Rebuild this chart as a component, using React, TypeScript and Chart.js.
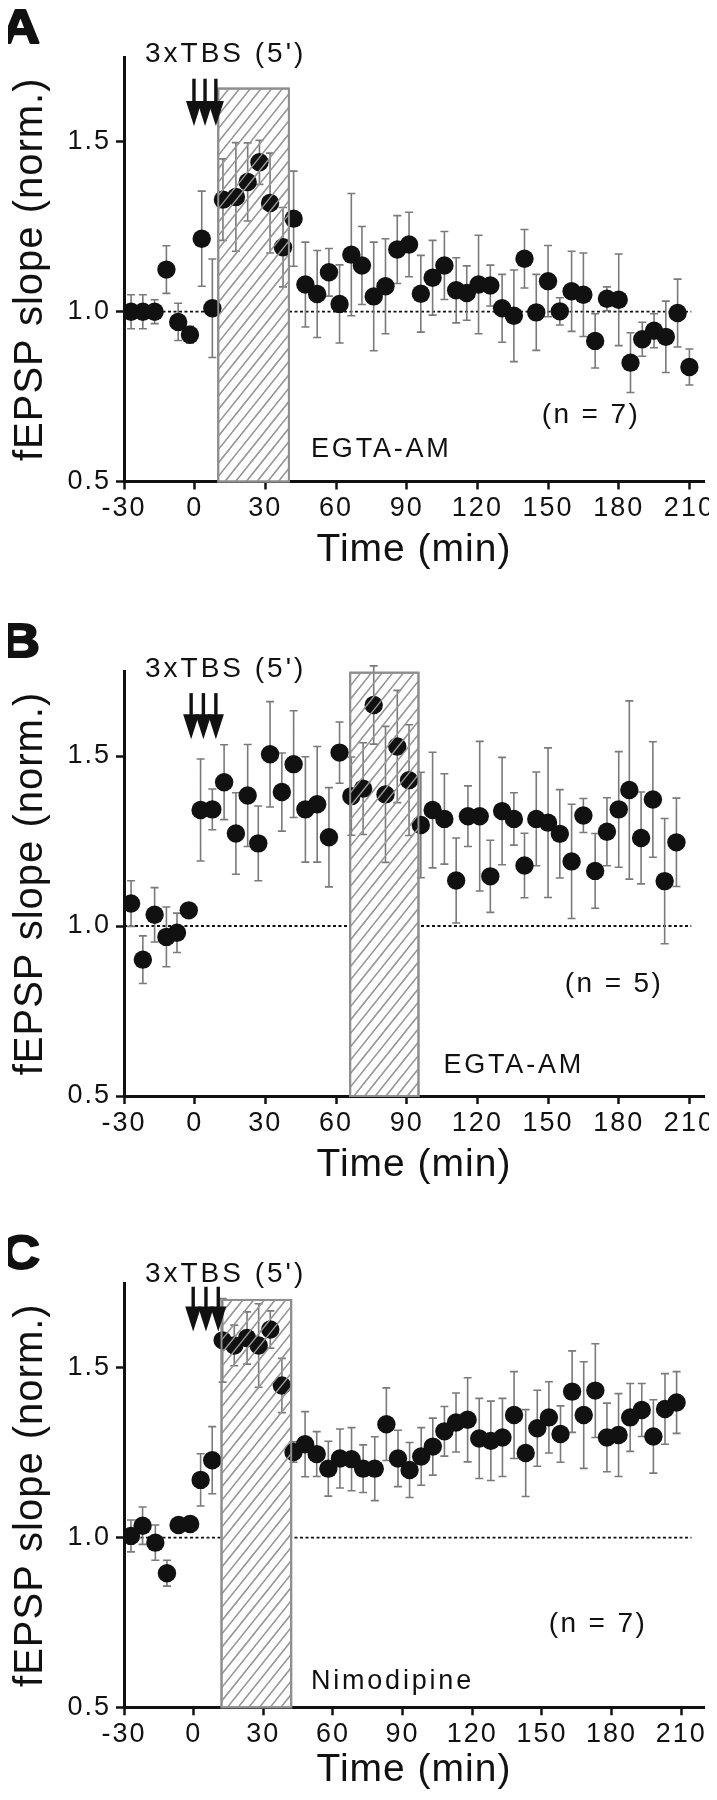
import React, { useEffect, useRef } from "react";
import { Chart, registerables } from "chart.js";

Chart.register(...registerables);

const FONT = "'Liberation Sans', Arial, Helvetica, sans-serif";
const INK = "#111111";
const BAR = "#7a7a7a";
const HATCH = "#9a9a9a";
const EDGE = "#8e8e8e";

// ---- axis ticks ----
const xTickValues = [-30, 0, 30, 60, 90, 120, 150, 180, 210];
const yTickValues = [0.5, 1.0, 1.5];

// ---- Panel A (EGTA-AM after TBS) ----
const timeA = [-27, -22, -17, -12, -7, -2, 3, 7.5, 12, 17.5, 22.5, 27.5, 32, 37.5, 42, 47, 52, 57, 61.5, 66.5, 71, 76, 81, 86, 91, 96, 101, 106, 111, 115.5, 120.5, 125.5, 130.5, 135.5, 140, 145, 150, 155, 160, 165, 170, 175, 180, 185, 190, 195, 200, 205, 210];
const slopeA = [1.0, 1.0, 1.0, 1.124, 0.97, 0.932, 1.215, 1.01, 1.33, 1.338, 1.382, 1.44, 1.32, 1.19, 1.274, 1.08, 1.052, 1.116, 1.023, 1.168, 1.136, 1.045, 1.075, 1.183, 1.198, 1.053, 1.1, 1.136, 1.063, 1.055, 1.08, 1.077, 1.01, 0.988, 1.156, 0.998, 1.09, 1.001, 1.06, 1.05, 0.914, 1.038, 1.035, 0.85, 0.919, 0.944, 0.926, 0.996, 0.837];
const semA = [0.05, 0.05, 0.035, 0.07, 0.055, 0.025, 0.14, 0.145, 0.12, 0.16, 0.115, 0.065, 0.147, 0.117, 0.14, 0.125, 0.128, 0.07, 0.115, 0.18, 0.115, 0.16, 0.14, 0.1, 0.095, 0.113, 0.11, 0.1, 0.096, 0.08, 0.145, 0.06, 0.1, 0.135, 0.086, 0.112, 0.105, 0.04, 0.118, 0.123, 0.08, 0.035, 0.135, 0.088, 0.05, 0.05, 0.105, 0.1, 0.053];
const arrowTimesA = [-0.3, 4.4, 9.0];

// ---- Panel B (EGTA-AM late) ----
const timeB = [-27, -22, -17, -12, -7.5, -2.5, 2.5, 7.5, 12.5, 17.5, 22.5, 27, 32, 37, 42, 47, 52, 57, 61.5, 66.5, 71.5, 76, 81, 86, 91, 96, 101, 106, 111, 116, 121, 125.5, 130.5, 135.5, 140, 145, 150, 155, 160, 165, 170, 175, 180, 184.5, 189.5, 194.5, 199.5, 204.5];
const slopeB = [1.066, 0.901, 1.033, 0.968, 0.98, 1.046, 1.341, 1.343, 1.423, 1.272, 1.384, 1.243, 1.505, 1.394, 1.476, 1.343, 1.358, 1.261, 1.51, 1.382, 1.404, 1.65, 1.387, 1.528, 1.429, 1.297, 1.341, 1.315, 1.134, 1.323, 1.323, 1.146, 1.338, 1.315, 1.178, 1.315, 1.304, 1.271, 1.19, 1.325, 1.162, 1.277, 1.343, 1.4, 1.259, 1.372, 1.132, 1.246];
const semB = [0.067, 0.07, 0.08, 0.088, 0.058, 0.02, 0.15, 0.06, 0.11, 0.12, 0.15, 0.11, 0.155, 0.115, 0.157, 0.155, 0.17, 0.146, 0.09, 0.115, 0.135, 0.115, 0.2, 0.165, 0.163, 0.155, 0.17, 0.133, 0.125, 0.089, 0.22, 0.106, 0.158, 0.077, 0.095, 0.138, 0.22, 0.13, 0.168, 0.05, 0.11, 0.1, 0.17, 0.262, 0.135, 0.17, 0.184, 0.13];
const arrowTimesB = [-1.5, 3.7, 9.0];

// ---- Panel C (Nimodipine) ----
const timeC = [-27, -22, -16.5, -11.5, -6.5, -1.5, 3, 8, 12.5, 17.5, 23, 28, 33, 38, 43, 48, 53, 58, 63, 68, 73, 78, 83, 88, 93, 98, 103, 108, 113, 118, 123, 128, 133, 138, 143, 148, 153, 158, 163, 168, 173, 178, 183, 188, 193, 198, 203, 208];
const slopeC = [1.005, 1.035, 0.985, 0.895, 1.037, 1.04, 1.17, 1.228, 1.581, 1.566, 1.588, 1.566, 1.613, 1.448, 1.252, 1.275, 1.246, 1.203, 1.233, 1.231, 1.203, 1.203, 1.334, 1.233, 1.199, 1.239, 1.268, 1.313, 1.339, 1.347, 1.292, 1.285, 1.295, 1.361, 1.249, 1.322, 1.354, 1.305, 1.43, 1.361, 1.433, 1.295, 1.302, 1.354, 1.376, 1.298, 1.379, 1.398];
const semC = [0.047, 0.055, 0.052, 0.038, 0.012, 0.012, 0.077, 0.099, 0.123, 0.06, 0.077, 0.123, 0.055, 0.08, 0.03, 0.096, 0.066, 0.081, 0.087, 0.093, 0.07, 0.094, 0.107, 0.083, 0.081, 0.085, 0.084, 0.073, 0.087, 0.124, 0.118, 0.117, 0.115, 0.128, 0.128, 0.112, 0.105, 0.083, 0.12, 0.157, 0.138, 0.101, 0.122, 0.1, 0.078, 0.108, 0.104, 0.091];
const arrowTimesC = [-0.2, 5.3, 10.6];

type Spec = {
  letter: string;
  time: number[];
  slope: number[];
  sem: number[];
  arrows: number[];
  xMax: number;
  canvasHeight: number;
  xAxisHeight: number;
  titlePad: number;
  box: { x0: number; x1: number; top: number };
  arrowTop: number;
  arrowTip: number;
  tbs: { x: number; y: number };
  nText: string;
  nPos: { x: number; y: number };
  drug: string;
  drugPos: { x: number; y: number };
  baselineEnd: number;
};

const panels: Spec[] = [
  {
    letter: "A", time: timeA, slope: slopeA, sem: semA, arrows: arrowTimesA,
    xMax: 216.2, canvasHeight: 614, xAxisHeight: 132.5, titlePad: 40,
    box: { x0: 10, x1: 40, top: 1.657 }, arrowTop: 1.686, arrowTip: 1.547,
    tbs: { x: -21.1, y: 1.734 }, nText: "(n = 7)", nPos: { x: 147.3, y: 0.671 },
    drug: "EGTA-AM", drugPos: { x: 49.4, y: 0.571 }, baselineEnd: 210.8,
  },
  {
    letter: "B", time: timeB, slope: slopeB, sem: semB, arrows: arrowTimesB,
    xMax: 216.2, canvasHeight: 612, xAxisHeight: 130, titlePad: 37,
    box: { x0: 66, x1: 95, top: 1.745 }, arrowTop: 1.685, arrowTip: 1.549,
    tbs: { x: -21.1, y: 1.731 }, nText: "(n = 5)", nPos: { x: 157.1, y: 0.806 },
    drug: "EGTA-AM", drugPos: { x: 105.6, y: 0.569 }, baselineEnd: 210.8,
  },
  {
    letter: "C", time: timeC, slope: slopeC, sem: semC, arrows: arrowTimesC,
    xMax: 219.8, canvasHeight: 574, xAxisHeight: 92.7, titlePad: 6,
    box: { x0: 12, x1: 42, top: 1.7 }, arrowTop: 1.739, arrowTip: 1.607,
    tbs: { x: -21.0, y: 1.754 }, nText: "(n = 7)", nPos: { x: 152.9, y: 0.721 },
    drug: "Nimodipine", drugPos: { x: 50.5, y: 0.555 }, baselineEnd: 214.4,
  },
];

function hatchBox(chart: any, s: Spec, under: boolean) {
  const { ctx, scales } = chart;
  const x = scales.x, y = scales.y;
  const L = x.getPixelForValue(s.box.x0);
  const R = x.getPixelForValue(s.box.x1);
  const T = y.getPixelForValue(s.box.top);
  const B = y.getPixelForValue(0.5);
  ctx.save();
  if (under) {
    ctx.fillStyle = "#ffffff";
    ctx.fillRect(L, T, R - L, B - T);
  }
  ctx.beginPath();
  ctx.rect(L, T, R - L, B - T);
  ctx.clip();
  ctx.strokeStyle = HATCH;
  ctx.lineWidth = 1.3;
  const slope = 1.25;
  const step = 10.7;
  const h = B - T;
  const run = h / slope;
  ctx.beginPath();
  for (let sx = L - run - step; sx < R + step; sx += step) {
    ctx.moveTo(sx, B);
    ctx.lineTo(sx + run, T);
  }
  ctx.stroke();
  ctx.restore();
  ctx.save();
  ctx.strokeStyle = EDGE;
  ctx.lineWidth = 2;
  ctx.strokeRect(L, T, R - L, B - T);
  ctx.restore();
}

function errorBars(chart: any, s: Spec) {
  const { ctx, scales } = chart;
  const x = scales.x, y = scales.y;
  ctx.save();
  ctx.strokeStyle = BAR;
  ctx.lineWidth = 1.6;
  ctx.beginPath();
  s.time.forEach((t, i) => {
    const px = x.getPixelForValue(t);
    const hi = y.getPixelForValue(s.slope[i] + s.sem[i]);
    const lo = y.getPixelForValue(s.slope[i] - s.sem[i]);
    ctx.moveTo(px, hi);
    ctx.lineTo(px, lo);
    ctx.moveTo(px - 4, hi);
    ctx.lineTo(px + 4, hi);
    ctx.moveTo(px - 4, lo);
    ctx.lineTo(px + 4, lo);
  });
  ctx.stroke();
  ctx.restore();
}

function makePlugin(s: Spec) {
  return {
    id: "figureExtras" + s.letter,
    beforeDraw(chart: any) {
      chart.ctx.letterSpacing = "1px";
    },
    afterDatasetDraw(chart: any, args: any) {
      if (args.index === 1) {
        hatchBox(chart, s, true);
        errorBars(chart, s);
      }
    },
    afterDatasetsDraw(chart: any) {
      hatchBox(chart, s, false);
      chart.ctx.letterSpacing = "2px";
    },
    afterDraw(chart: any) {
      const { ctx, scales, chartArea } = chart;
      const x = scales.x, y = scales.y;
      ctx.save();
      ctx.fillStyle = INK;
      ctx.strokeStyle = INK;
      ctx.textBaseline = "alphabetic";
      ctx.textAlign = "left";
      // annotation texts
      ctx.letterSpacing = "3px";
      ctx.font = `28px ${FONT}`;
      ctx.fillText("3xTBS (5')", x.getPixelForValue(s.tbs.x), y.getPixelForValue(s.tbs.y));
      ctx.letterSpacing = "2.4px";
      ctx.font = `28px ${FONT}`;
      ctx.fillText(s.nText, x.getPixelForValue(s.nPos.x), y.getPixelForValue(s.nPos.y));
      ctx.letterSpacing = "2.8px";
      ctx.font = `27px ${FONT}`;
      ctx.fillText(s.drug, x.getPixelForValue(s.drugPos.x), y.getPixelForValue(s.drugPos.y));
      // arrows
      const top = y.getPixelForValue(s.arrowTop);
      const tip = y.getPixelForValue(s.arrowTip);
      const headH = 25;
      const headW = 8;
      s.arrows.forEach((t) => {
        const px = x.getPixelForValue(t);
        ctx.lineWidth = 3.4;
        ctx.beginPath();
        ctx.moveTo(px, top);
        ctx.lineTo(px, tip - headH + 2);
        ctx.stroke();
        ctx.beginPath();
        ctx.moveTo(px - headW, tip - headH);
        ctx.lineTo(px + headW, tip - headH);
        ctx.lineTo(px, tip);
        ctx.closePath();
        ctx.fill();
      });
      // panel letter (heavy)
      ctx.letterSpacing = "0px";
      ctx.font = `bold 48px ${FONT}`;
      ctx.translate(1, chartArea.top - 14);
      ctx.scale(1.12, 1);
      ctx.lineWidth = 2.2;
      ctx.lineJoin = "round";
      ctx.fillText(s.letter, 0, 0);
      ctx.strokeText(s.letter, 0, 0);
      ctx.restore();
    },
  };
}

function buildConfig(s: Spec): any {
  return {
    type: "scatter",
    data: {
      datasets: [
        {
          data: s.time.map((t, i) => ({ x: t, y: s.slope[i] })),
          pointRadius: 9.2,
          pointHoverRadius: 9.2,
          pointBackgroundColor: INK,
          backgroundColor: INK,
          borderWidth: 0,
          pointBorderWidth: 0,
          showLine: false,
        },
        {
          type: "line",
          data: [
            { x: -30, y: 1 },
            { x: s.baselineEnd, y: 1 },
          ],
          borderColor: INK,
          borderWidth: 1.8,
          borderDash: [3, 2.5],
          pointRadius: 0,
          fill: false,
          tension: 0,
        },
      ],
    },
    options: {
      responsive: false,
      animation: false,
      events: [],
      layout: { padding: { top: 57, right: 13, left: 0, bottom: 0 } },
      plugins: { legend: { display: false }, tooltip: { enabled: false } },
      scales: {
        x: {
          type: "linear",
          position: "bottom",
          min: -30,
          max: s.xMax,
          afterBuildTicks: (sc: any) => {
            sc.ticks = xTickValues.map((v) => ({ value: v }));
          },
          afterFit: (sc: any) => {
            sc.height = s.xAxisHeight;
          },
          grid: { display: true, drawOnChartArea: false, drawTicks: true, tickLength: 8, tickWidth: 2.5, tickColor: INK },
          border: { display: true, color: INK, width: 3 },
          ticks: {
            color: INK,
            font: { family: FONT, size: 27 },
            padding: 3,
            maxRotation: 0,
            minRotation: 0,
            autoSkip: false,
            z: 1,
            callback: (v: any) => String(v),
          },
          title: {
            display: true,
            text: "Time (min)",
            color: INK,
            font: { family: FONT, size: 39 },
            padding: { top: 0, bottom: s.titlePad },
          },
        },
        y: {
          type: "linear",
          min: 0.5,
          max: 1.75,
          afterBuildTicks: (sc: any) => {
            sc.ticks = yTickValues.map((v) => ({ value: v }));
          },
          afterFit: (sc: any) => {
            sc.width = 124;
          },
          grid: { display: true, drawOnChartArea: false, drawTicks: true, tickLength: 8, tickWidth: 2.5, tickColor: INK },
          border: { display: true, color: INK, width: 3 },
          ticks: {
            color: INK,
            font: { family: FONT, size: 27 },
            padding: 5,
            z: 1,
            callback: (v: any) => Number(v).toFixed(1),
          },
          title: {
            display: true,
            text: "fEPSP slope (norm.)",
            color: INK,
            font: { family: FONT, size: 40 },
            padding: { top: 7, bottom: 0 },
          },
        },
      },
    },
    plugins: [makePlugin(s)],
  };
}

function Panel({ spec }: { spec: Spec }) {
  const ref = useRef<HTMLCanvasElement | null>(null);
  useEffect(() => {
    if (!ref.current) return;
    const chart = new Chart(ref.current, buildConfig(spec));
    return () => {
      chart.destroy();
    };
  }, [spec]);
  return (
    <canvas
      ref={ref}
      width={717}
      height={spec.canvasHeight}
      style={{ display: "block", width: 717, height: spec.canvasHeight }}
    />
  );
}

export default function App() {
  return (
    <div style={{ margin: -8, width: 717, background: "#ffffff" }}>
      {panels.map((p) => (
        <Panel key={p.letter} spec={p} />
      ))}
    </div>
  );
}
